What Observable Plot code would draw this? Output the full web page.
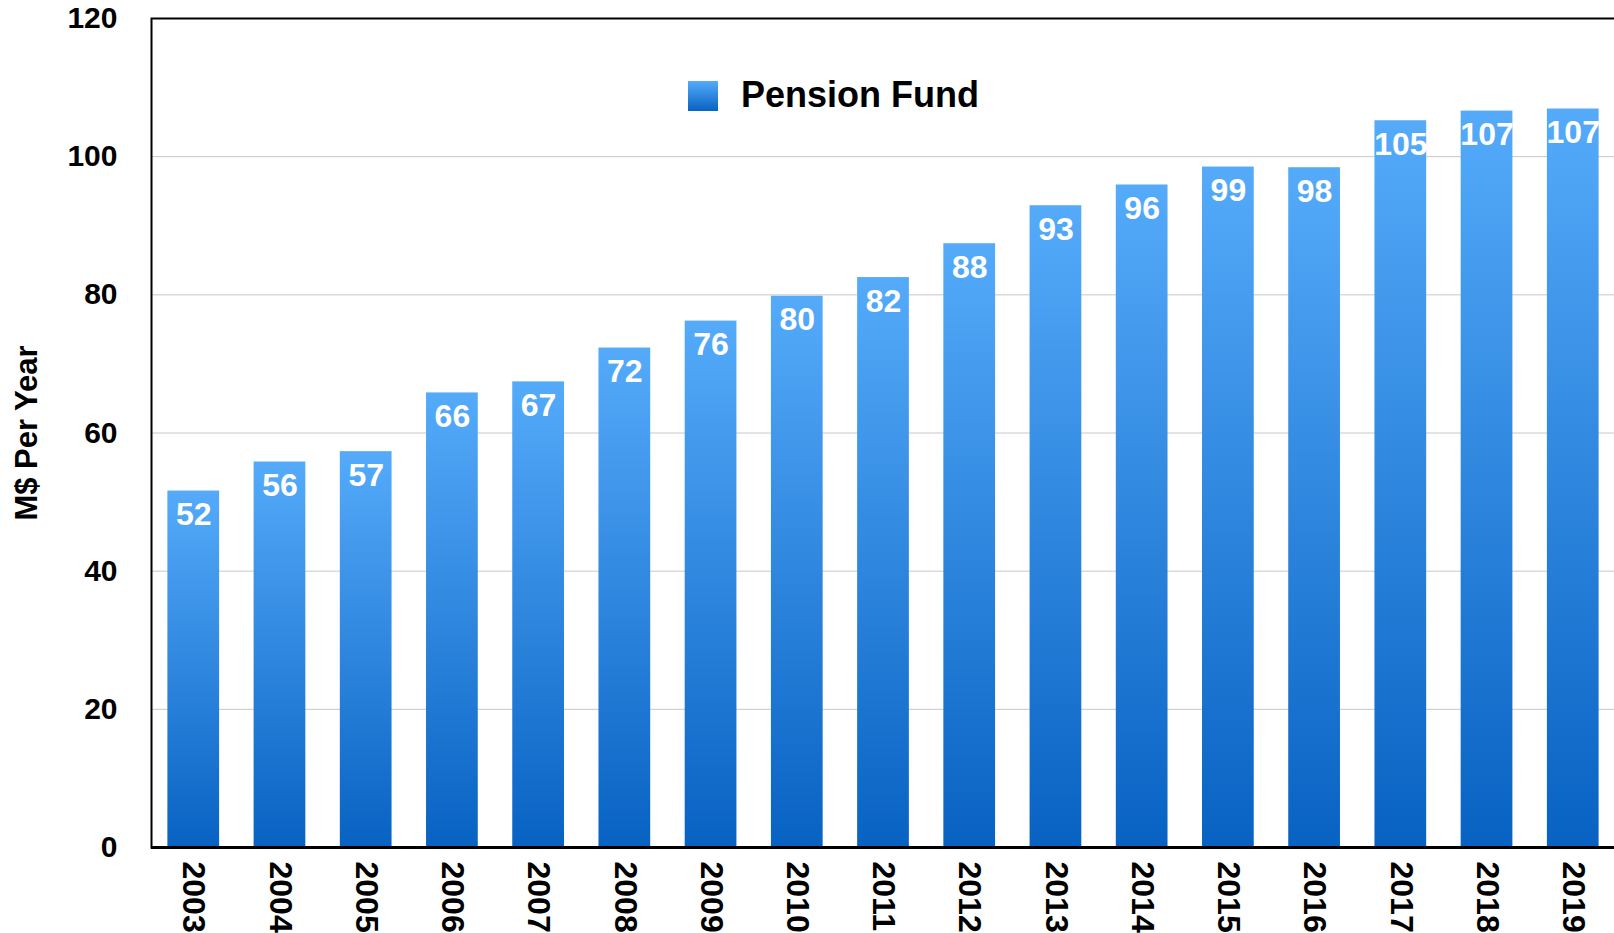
<!DOCTYPE html>
<html>
<head>
<meta charset="utf-8">
<script src="https://cdn.jsdelivr.net/npm/d3@7"></script>
<script src="https://cdn.jsdelivr.net/npm/@observablehq/plot@0.6"></script>
<style>
  html, body { margin: 0; padding: 0; background: #fff; }
  #wrap { position: relative; width: 1614px; height: 933px; overflow: hidden; font-family: "Liberation Sans", Arial, Helvetica, sans-serif; }
  #legend { position: absolute; left: 688px; top: 77px; display: flex; align-items: flex-start; }
  #legend .sw { width: 30px; height: 30px; margin-top: 4px; background: linear-gradient(#55abfa, #0862c2); }
  #legend .lb { margin-left: 23px; font-size: 36px; line-height: 36px; font-weight: bold; color: #000; }
</style>
</head>
<body>
<div id="wrap"></div>
<script>
const years = ["2003","2004","2005","2006","2007","2008","2009","2010","2011","2012","2013","2014","2015","2016","2017","2018","2019"];
const values = [51.6, 55.8, 57.3, 65.8, 67.4, 72.3, 76.2, 79.8, 82.5, 87.4, 92.9, 95.9, 98.5, 98.4, 105.2, 106.6, 106.9];
const valueLabels = ["52","56","57","66","67","72","76","80","82","88","93","96","99","98","105","107","107"];
const yTicks = [0, 20, 40, 60, 80, 100, 120];
const seriesName = "Pension Fund";
const yTitle = "M$ Per Year";

const data = years.map((y, i) => ({year: y, value: values[i], label: valueLabels[i]}));

const font = '"Liberation Sans", Arial, Helvetica, sans-serif';

const chart = Plot.plot({
  width: 1614,
  height: 933,
  marginTop: 18,
  marginBottom: 86,
  marginLeft: 151,
  marginRight: -1,
  style: {fontFamily: font, background: "#fff", overflow: "visible"},
  x: {domain: years, paddingInner: 0.4, paddingOuter: 0.19, round: false, label: null},
  y: {domain: [0, 120], label: null},
  marks: [
    Plot.gridY(yTicks, {stroke: "#c8c8c8", strokeOpacity: 1, strokeWidth: 1}),
    Plot.barY(data, {x: "year", y: "value", fill: "url(#barGrad)"}),
    Plot.text(data, {x: "year", y: "value", text: "label", dy: 24, fill: "#fff", fontWeight: "bold", fontSize: 32, lineAnchor: "middle"}),
    Plot.axisY(yTicks, {tickSize: 0, tickPadding: 34, fontSize: 30, fontWeight: "bold", fill: "#000", label: null}),
    Plot.axisX({tickSize: 0, tickPadding: 14, tickRotate: 90, fontSize: 32, fontWeight: "bold", fill: "#000", label: null}),
    Plot.frame({stroke: "#000", strokeWidth: 2}),
    Plot.ruleY([0], {stroke: "#000", strokeWidth: 3})
  ]
});

const svg = d3.select(chart);
const defs = svg.insert("defs", ":first-child");
const g = defs.append("linearGradient").attr("id", "barGrad")
  .attr("x1", 0).attr("y1", 0).attr("x2", 0).attr("y2", 1);
g.append("stop").attr("offset", "0%").attr("stop-color", "#55abfa");
g.append("stop").attr("offset", "100%").attr("stop-color", "#0862c2");

svg.append("text")
  .attr("transform", "translate(26,433) rotate(-90)")
  .attr("text-anchor", "middle")
  .attr("dominant-baseline", "central")
  .attr("font-size", 31)
  .attr("font-weight", "bold")
  .attr("fill", "#000")
  .attr("font-family", font)
  .text(yTitle);

const wrap = document.getElementById("wrap");
wrap.appendChild(chart);
const legend = document.createElement("div");
legend.id = "legend";
legend.innerHTML = '<div class="sw"></div><div class="lb"></div>';
legend.querySelector(".lb").textContent = seriesName;
wrap.appendChild(legend);
</script>
</body>
</html>
